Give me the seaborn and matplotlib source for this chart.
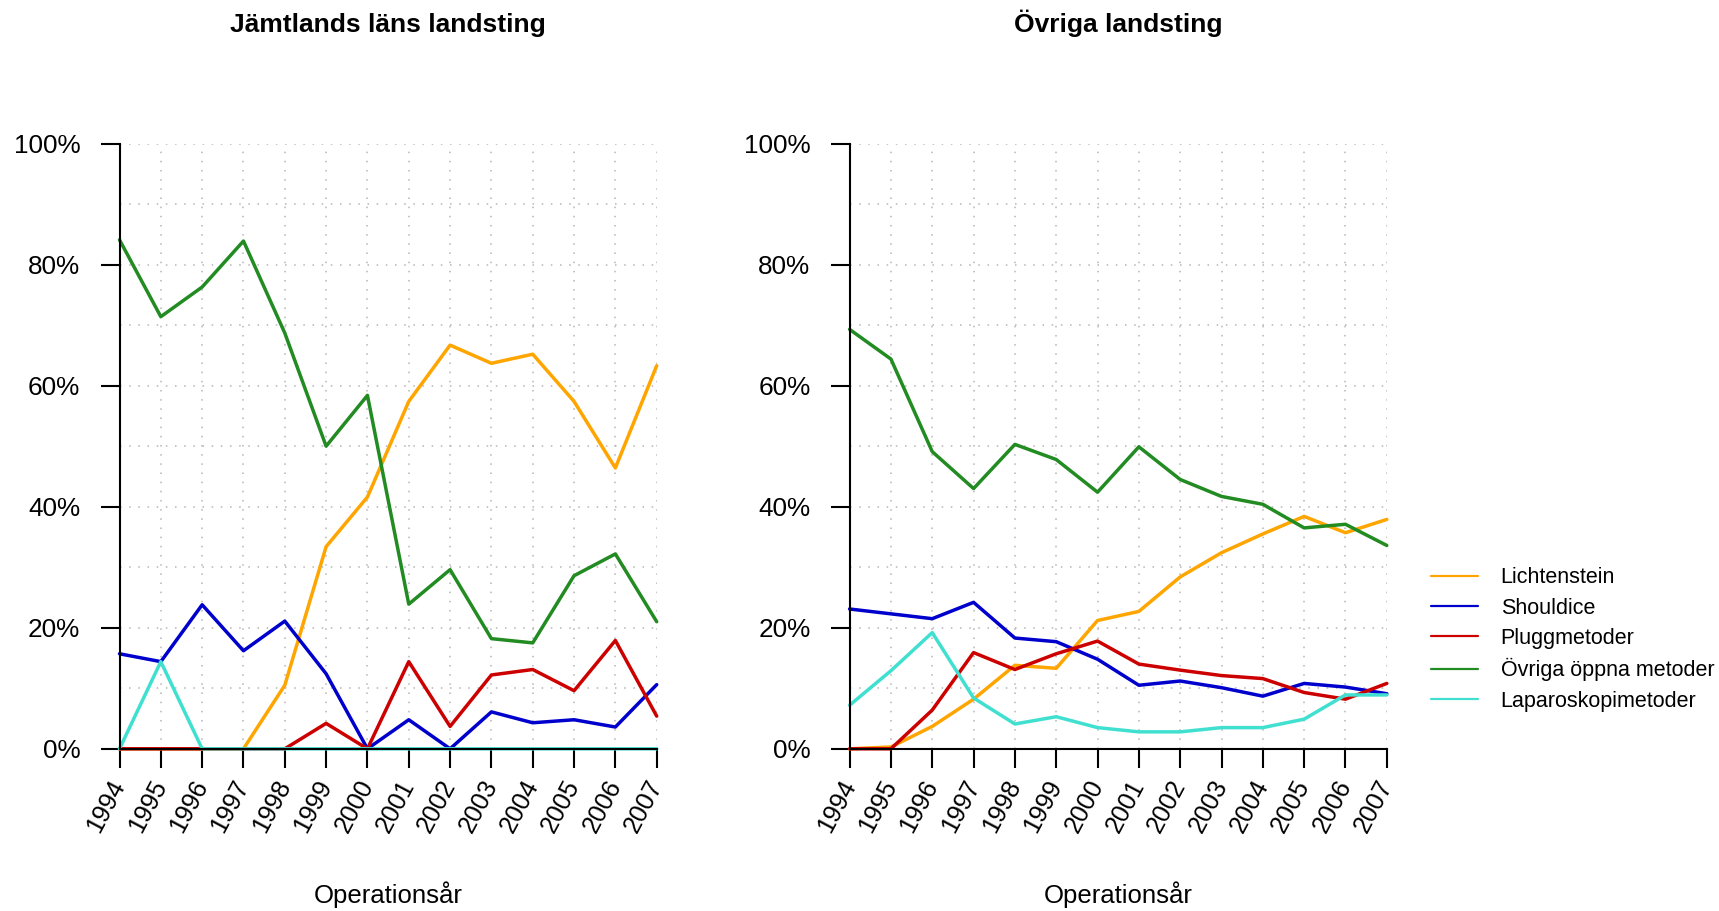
import numpy as np
import pandas as pd
import matplotlib
matplotlib.use("Agg")
import matplotlib.pyplot as plt
from matplotlib.ticker import MultipleLocator, FuncFormatter
import seaborn as sns

# data (andel i procent per operationsår)
years = list(range(1994, 2008))
methods = ["Lichtenstein", "Shouldice", "Pluggmetoder",
           "Övriga öppna metoder", "Laparoskopimetoder"]
colors = ["#FFA500", "#0000CD", "#CD0000", "#228B22", "#40E0D0"]

jamt_lichtenstein = [0, 0, 0, 0, 10.5, 33.4, 41.6, 57.4, 66.7, 63.7, 65.2, 57.4, 46.4, 63.3]
jamt_shouldice = [15.7, 14.4, 23.8, 16.2, 21.1, 12.4, 0, 4.8, 0, 6.1, 4.3, 4.8, 3.6, 10.6]
jamt_plugg = [0, 0, 0, 0, 0, 4.2, 0, 14.4, 3.7, 12.2, 13.1, 9.6, 17.9, 5.4]
jamt_ovriga = [84.1, 71.4, 76.3, 83.9, 68.7, 50.0, 58.4, 23.9, 29.6, 18.2, 17.5, 28.6, 32.2, 21.0]
jamt_laparo = [0, 14.4, 0, 0, 0, 0, 0, 0, 0, 0, 0, 0, 0, 0]

ovr_lichtenstein = [0, 0.3, 3.7, 8.2, 13.8, 13.3, 21.2, 22.7, 28.4, 32.4, 35.5, 38.4, 35.7, 37.9]
ovr_shouldice = [23.1, 22.3, 21.5, 24.2, 18.3, 17.7, 14.8, 10.5, 11.2, 10.1, 8.7, 10.8, 10.2, 9.1]
ovr_plugg = [0, 0, 6.4, 15.9, 13.1, 15.7, 17.8, 14.0, 13.0, 12.1, 11.6, 9.3, 8.2, 10.8]
ovr_ovriga = [69.3, 64.4, 49.1, 43.0, 50.3, 47.8, 42.4, 49.9, 44.5, 41.7, 40.4, 36.5, 37.1, 33.6]
ovr_laparo = [7.2, 12.9, 19.2, 8.4, 4.1, 5.3, 3.5, 2.8, 2.8, 3.5, 3.5, 4.9, 8.9, 8.9]

panels = [
    ("Jämtlands läns landsting",
     [jamt_lichtenstein, jamt_shouldice, jamt_plugg, jamt_ovriga, jamt_laparo]),
    ("Övriga landsting",
     [ovr_lichtenstein, ovr_shouldice, ovr_plugg, ovr_ovriga, ovr_laparo]),
]


def to_long(series):
    rows = []
    for m, vals in zip(methods, series):
        for y, v in zip(years, vals):
            rows.append({"year": y, "pct": v, "metod": m})
    return pd.DataFrame(rows)


sns.set_style("white")
plt.rcParams["font.family"] = ["Liberation Sans", "DejaVu Sans"]
plt.rcParams["text.color"] = "black"

W, H = 1719, 911
fig = plt.figure(figsize=(W / 100, H / 100), dpi=100)

ax_left_px = [119.5, 849.6]
ax_w_px = 537.2
ax_top_px, ax_bot_px = 143.6, 748.8

palette = dict(zip(methods, colors))
axes = []
for i, (title, series) in enumerate(panels):
    x0 = ax_left_px[i]
    ax = fig.add_axes([x0 / W, 1 - ax_bot_px / H, ax_w_px / W, (ax_bot_px - ax_top_px) / H])
    axes.append(ax)
    df = to_long(series)
    sns.lineplot(data=df, x="year", y="pct", hue="metod", hue_order=methods,
                 palette=palette, errorbar=None, linewidth=2.5, ax=ax,
                 legend=(i == 1))
    for ln in ax.get_lines():
        ln.set_clip_on(False)

    ax.set_xlim(1994, 2007)
    ax.set_ylim(0, 100)
    ax.set_xticks(years)
    ax.set_xticklabels([str(y) for y in years], rotation=62, ha="right",
                       va="center", rotation_mode="anchor")
    ax.set_yticks(range(0, 101, 20))
    ax.yaxis.set_minor_locator(MultipleLocator(10))
    ax.yaxis.set_major_formatter(FuncFormatter(lambda v, p: f"{int(v)}%"))

    ax.set_axisbelow(True)
    grid_kw = dict(color="#B5B5B5", linestyle=(0, (1, 5)), linewidth=1.1)
    ax.grid(axis="x", which="major", **grid_kw)
    ax.grid(axis="y", which="both", **grid_kw)

    for s in ["top", "right"]:
        ax.spines[s].set_visible(False)
    for s in ["left", "bottom"]:
        ax.spines[s].set_linewidth(1.5)
        ax.spines[s].set_color("black")

    ax.tick_params(axis="both", which="major", bottom=True, left=True,
                   length=13.7, width=1.5, color="black", labelcolor="black",
                   labelsize=18.8, direction="out")
    ax.tick_params(axis="x", which="major", labelsize=18, pad=10)
    ax.tick_params(axis="y", which="major", pad=14.5)
    ax.tick_params(axis="y", which="minor", length=0)
    ax.set_xlabel("")
    ax.set_ylabel("")

    cx = (x0 + ax_w_px / 2) / W
    fig.text(cx, 1 - 31.7 / H, title, ha="center", va="baseline",
             fontsize=19, fontweight="bold", color="black")
    fig.text(cx, 1 - 902.5 / H, "Operationsår", ha="center", va="baseline",
             fontsize=18.5, color="black")

handles, labels = axes[1].get_legend_handles_labels()
axes[1].get_legend().remove()
leg = fig.legend(handles, labels, loc="center left",
                 bbox_to_anchor=(1430.7 / W, 1 - 639.5 / H),
                 frameon=False, fontsize=15.5, handlelength=2.2,
                 handletextpad=1.05, labelspacing=0.43,
                 borderpad=0, borderaxespad=0)
for ln in leg.get_lines():
    ln.set_linewidth(1.6)
for t in leg.get_texts():
    t.set_color("black")

fig.savefig("out.png", dpi=100)
